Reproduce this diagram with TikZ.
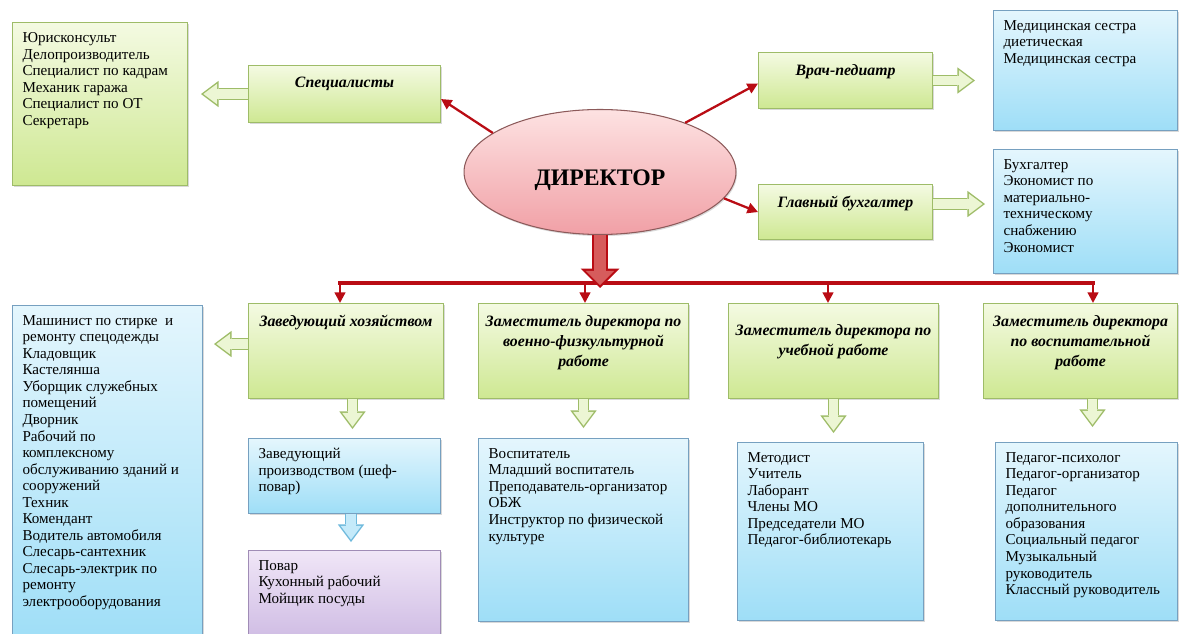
\documentclass[tikz,border=0pt]{standalone}
\usepackage{fontspec}
\setmainfont{Liberation Serif}
\usepackage{tikz}
\usetikzlibrary{
	positioning,
	arrows.meta,
	shapes.geometric,
	shadows
}

\definecolor{dkred}{RGB}{185,12,20}
\definecolor{bigred}{RGB}{214,92,92}
\definecolor{pinktop}{RGB}{253,226,226}
\definecolor{pinkbot}{RGB}{241,160,166}
\definecolor{pinkline}{RGB}{140,90,90}
\definecolor{grntop}{RGB}{244,250,226}
\definecolor{grnbot}{RGB}{206,232,146}
\definecolor{grnline}{RGB}{158,188,104}
\definecolor{grnarr}{RGB}{236,246,212}
\definecolor{blutop}{RGB}{228,246,253}
\definecolor{blubot}{RGB}{158,222,247}
\definecolor{bluline}{RGB}{118,160,192}
\definecolor{bluarr}{RGB}{196,234,250}
\definecolor{bluarrline}{RGB}{110,185,220}
\definecolor{purtop}{RGB}{240,230,247}
\definecolor{purbot}{RGB}{204,184,226}
\definecolor{purline}{RGB}{160,140,182}

% text blocks: height, width, lines
\newcommand{\plist}[3]{\parbox[t][#1][t]{#2}{\raggedright #3}}
\newcommand{\phead}[3]{\parbox[t][#1][t]{#2}{\centering #3}}

\tikzset{
	box/.style={rectangle, anchor=north west, line width=0.6pt,
		inner xsep=0.2cm, inner ysep=0.2cm,
		drop shadow={shadow xshift=0.6pt, shadow yshift=-0.9pt, opacity=0.3}},
	grnfill/.style={draw=grnline, top color=grntop, bottom color=grnbot},
	blufill/.style={draw=bluline, top color=blutop, bottom color=blubot},
	purfill/.style={draw=purline, top color=purtop, bottom color=purbot},
	listbox/.style={box, font=\fontsize{8.6}{9.4}\selectfont},
	headbox/.style={box, grnfill, inner xsep=0.1cm, inner ysep=0.24cm,
		font=\fontsize{9}{11.3}\selectfont\bfseries\itshape},
	boss/.style={ellipse, draw=pinkline, line width=0.6pt,
		top color=pinktop, bottom color=pinkbot,
		minimum width=5.44cm, minimum height=2.5cm, inner sep=0pt,
		text height=15.8pt, text depth=0pt,
		font=\fontsize{13.5}{16}\selectfont\bfseries,
		drop shadow={shadow xshift=0.6pt, shadow yshift=-0.9pt, opacity=0.3}},
	redarr/.style={draw=dkred, line width=1.3pt,
		-{Triangle[length=6pt,width=6pt]}},
	busline/.style={draw=dkred, line width=2pt, line cap=rect},
	blk/.style 2 args={draw=#2, line width=5.2pt, shorten >=1.33pt,
		-{Triangle[length=7.9pt,width=11.8pt,line width=0pt]},
		preaction={draw=#1, line width=6.8pt, shorten >=0pt,
			-{Triangle[length=10pt,width=15pt,line width=0pt]}}},
	bigarr/.style={draw=bigred, line width=6.6pt, shorten >=1.7pt,
		-{Triangle[length=8.1pt,width=16.2pt,line width=0pt]},
		preaction={draw=dkred, line width=9pt, shorten >=0pt,
			-{Triangle[length=11pt,width=22pt,line width=0pt]}}}
}

\begin{document}
\begin{tikzpicture}[x=0.02cm, y=-0.02cm]
	\path[use as bounding box, clip] (0,0) rectangle (1179,634);

	\draw
		node[boss] (dir) at (600,172) {ДИРЕКТОР}

		node[headbox] (spec)  at (248,65) {\phead{0.66cm}{3.64cm}{Специалисты}}
		node[headbox] (vrach) at (758,52) {\phead{0.64cm}{3.28cm}{Врач-педиатр}}
		node[headbox, below=1.5cm of vrach.south west, anchor=north west] (glbuh)
			{\phead{0.62cm}{3.28cm}{Главный бухгалтер}}

		node[listbox, grnfill] (spl) at (12,22) {\plist{2.86cm}{3.1cm}{%
			Юрисконсульт\\Делопроизводитель\\Специалист по кадрам\\%
			Механик гаража\\Специалист по ОТ\\Секретарь}}
		node[listbox, blufill] (med) at (993,10) {\plist{2.0cm}{3.28cm}{%
			Медицинская сестра\\диетическая\\Медицинская сестра}}
		node[listbox, blufill, below=0.36cm of med.south west, anchor=north west] (buh)
			{\plist{2.08cm}{3.28cm}{%
			Бухгалтер\\Экономист по\\материально-\\техническому\\снабжению\\Экономист}}

		node[headbox] (zh)    at (248,303) {\phead{1.42cm}{3.7cm}{Заведующий хозяйством}}
		node[headbox] (zvf)   at (478,303) {\phead{1.42cm}{4.0cm}{%
			Заместитель директора по\\военно-физкультурной\\работе}}
		node[headbox] (zuch)  at (728,303) {\phead{1.42cm}{4.0cm}{%
			\mbox{}\\Заместитель директора по\\учебной работе}}
		node[headbox] (zvosp) at (983,303) {\phead{1.42cm}{3.68cm}{%
			Заместитель директора\\по воспитательной\\работе}}

		node[listbox, blufill] (hozl) at (12,305) {\plist{6.4cm}{3.4cm}{%
			Машинист по стирке~ и\\ремонту спецодежды\\Кладовщик\\Кастелянша\\%
			Уборщик служебных\\помещений\\Дворник\\Рабочий по\\комплексному\\%
			обслуживанию зданий и\\сооружений\\Техник\\Комендант\\%
			Водитель автомобиля\\Слесарь-сантехник\\Слесарь-электрик по\\%
			ремонту\\электрооборудования}}
		node[listbox, blufill, below=0.78cm of zh.south west, anchor=north west] (zprod)
			{\plist{1.1cm}{3.44cm}{Заведующий\\производством (шеф-\\повар)}}
		node[listbox, purfill, below=0.72cm of zprod.south west, anchor=north west] (povar)
			{\plist{1.54cm}{3.44cm}{Повар\\Кухонный рабочий\\Мойщик посуды}}
		node[listbox, blufill, below=0.78cm of zvf.south west, anchor=north west] (vosp)
			{\plist{3.26cm}{3.8cm}{%
			Воспитатель\\Младший воспитатель\\Преподаватель-организатор\\ОБЖ\\%
			Инструктор по физической\\культуре}}
		node[listbox, blufill] (met) at (737,442) {\plist{3.16cm}{3.32cm}{%
			Методист\\Учитель\\Лаборант\\Члены МО\\Председатели МО\\Педагог-библиотекарь}}
		node[listbox, blufill] (ped) at (995,442) {\plist{3.16cm}{3.24cm}{%
			Педагог-психолог\\Педагог-организатор\\Педагог\\дополнительного\\%
			образования\\Социальный педагог\\Музыкальный\\руководитель\\%
			Классный руководитель}}
	;

	% bus under the director
	\coordinate (b1) at (340,283);
	\coordinate (b2) at (585,283);
	\coordinate (b3) at (828,283);
	\coordinate (b4) at (1093,283);
	\coordinate (bigtip) at (600,288);
	\draw[busline] (b1) -- (b4);

	\draw
		(dir.160) edge[redarr] ([yshift=-0.1cm]spec.east)
		(dir.30)  edge[redarr] ([yshift=-0.06cm]vrach.west)
		(dir.-12) edge[redarr] (glbuh.west)

		(b1) edge[redarr] (b1 |- zh.north)
		(b2) edge[redarr] (b2 |- zvf.north)
		(b3) edge[redarr] (b3 |- zuch.north)
		(b4) edge[redarr] (b4 |- zvosp.north)

		(dir.south) edge[bigarr] (bigtip)

		(spec.west) edge[blk={grnline}{grnarr}] ([xshift=0.26cm]spl.east |- spec.west)
		(vrach.east) edge[blk={grnline}{grnarr}] ([xshift=-0.36cm]med.west |- vrach.east)
		([yshift=0.16cm]glbuh.east) edge[blk={grnline}{grnarr}]
			([xshift=-0.16cm,yshift=0.16cm]buh.west |- glbuh.east)
		([yshift=0.14cm]zh.west) edge[blk={grnline}{grnarr}]
			([xshift=0.22cm,yshift=0.14cm]hozl.east |- zh.west)
		([xshift=0.13cm]zh.south) edge[blk={grnline}{grnarr}]
			([xshift=0.13cm,yshift=0.18cm]zh.south |- zprod.north)
		([xshift=0.13cm]zprod.south) edge[blk={bluarrline}{bluarr}]
			([xshift=0.13cm,yshift=0.16cm]zprod.south |- povar.north)
		(zvf.south) edge[blk={grnline}{grnarr}] ([yshift=0.2cm]zvf.south |- vosp.north)
		(zuch.south) edge[blk={grnline}{grnarr}] ([yshift=0.18cm]zuch.south |- met.north)
		([xshift=0.24cm]zvosp.south) edge[blk={grnline}{grnarr}]
			([xshift=0.24cm,yshift=0.3cm]zvosp.south |- ped.north)
	;
\end{tikzpicture}
\end{document}
